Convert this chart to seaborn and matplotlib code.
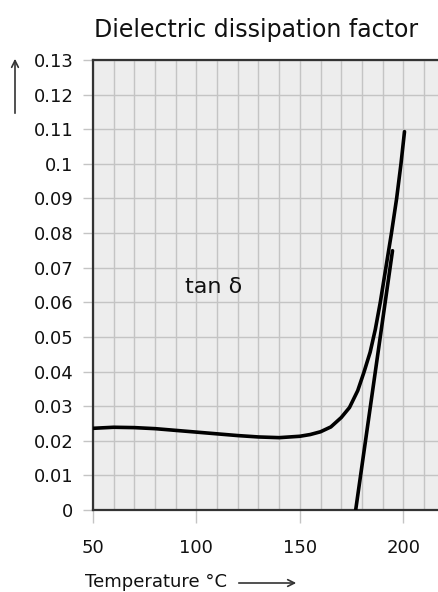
import matplotlib

matplotlib.use("Agg")
import matplotlib.pyplot as plt
import seaborn as sns
import pandas as pd
from matplotlib.ticker import FixedLocator, FixedFormatter

# tan delta curve
curve_temp = [50, 60, 70, 80, 90, 100, 110, 120, 130, 140, 150, 155, 160, 165,
              170, 174, 178, 181, 184, 186.5, 188.9, 191.6, 194.3, 196.8, 198.9,
              200.6]
curve_tan = [0.0236, 0.0239, 0.0238, 0.0235, 0.0230, 0.0225, 0.0220, 0.0215,
             0.0211, 0.0209, 0.0213, 0.0218, 0.0226, 0.0240, 0.0267, 0.0296,
             0.0345, 0.0398, 0.0456, 0.0522, 0.0600, 0.0700, 0.0800, 0.0900,
             0.1000, 0.1093]
# straight steep line
line_temp = [177.0, 194.8]
line_tan = [0.0, 0.0749]

x_ticks = [50, 100, 150, 200]
x_labels = ["50", "100", "150", "200"]
y_ticks = [0, 0.01, 0.02, 0.03, 0.04, 0.05, 0.06, 0.07, 0.08, 0.09, 0.1, 0.11, 0.12, 0.13]
y_labels = ["0", "0.01", "0.02", "0.03", "0.04", "0.05", "0.06", "0.07",
            "0.08", "0.09", "0.1", "0.11", "0.12", "0.13"]

sns.set_style("white")
plt.rcParams["font.family"] = ["DejaVu Sans"]

fig = plt.figure(figsize=(4.38, 5.92), dpi=100)
ax = fig.add_axes([93 / 438, 82 / 592, 345 / 438, 450 / 592])
ax.set_facecolor("#ededed")

curve = pd.DataFrame({"t": curve_temp, "v": curve_tan})
line = pd.DataFrame({"t": line_temp, "v": line_tan})
sns.lineplot(data=curve, x="t", y="v", color="black", linewidth=2.6, ax=ax, zorder=3)
sns.lineplot(data=line, x="t", y="v", color="black", linewidth=2.6, ax=ax, zorder=3)

ax.set_xlim(50, 216.8)
ax.set_ylim(0, 0.13)

ax.xaxis.set_major_locator(FixedLocator(x_ticks))
ax.xaxis.set_major_formatter(FixedFormatter(x_labels))
ax.xaxis.set_minor_locator(FixedLocator(list(range(60, 220, 10))))
ax.yaxis.set_major_locator(FixedLocator(y_ticks))
ax.yaxis.set_major_formatter(FixedFormatter(y_labels))

ax.grid(which="both", axis="x", color="#c4c4c4", linewidth=1.0)
ax.grid(which="major", axis="y", color="#c4c4c4", linewidth=1.0)
ax.set_axisbelow(True)

ax.tick_params(axis="x", which="major", length=9, width=1, color="#c4c4c4",
               labelsize=13, pad=12, labelcolor="#111111")
ax.tick_params(axis="x", which="minor", length=0)
ax.tick_params(axis="y", which="major", length=7, width=1, color="#c4c4c4",
               labelsize=13, pad=7, labelcolor="#111111", left=True)
ax.tick_params(axis="x", bottom=True)

for side in ["left", "bottom", "top"]:
    ax.spines[side].set_visible(True)
    ax.spines[side].set_color("#333333")
    ax.spines[side].set_linewidth(1.6)
ax.spines["right"].set_visible(False)

ax.set_xlabel("")
ax.set_ylabel("")

ax.text(94.6, 0.0645, "tan δ", fontsize=16, va="center", ha="left", color="#111111")

fig.text(256 / 438, 1 - 30 / 592, "Dielectric dissipation factor", fontsize=17,
         ha="center", va="center", color="#111111")

fig.text(85 / 438, 1 - 582 / 592, "Temperature °C", fontsize=13, ha="left",
         va="center", color="#111111")
fig.add_artist(matplotlib.patches.FancyArrowPatch(
    (236 / 438, 1 - 583 / 592), (299 / 438, 1 - 583 / 592),
    transform=fig.transFigure, arrowstyle="->", mutation_scale=12,
    linewidth=1.2, color="#333333"))
fig.add_artist(matplotlib.patches.FancyArrowPatch(
    (15 / 438, 1 - 116 / 592), (15 / 438, 1 - 56 / 592),
    transform=fig.transFigure, arrowstyle="->", mutation_scale=12,
    linewidth=1.2, color="#333333"))

fig.savefig("out.png", dpi=100)
